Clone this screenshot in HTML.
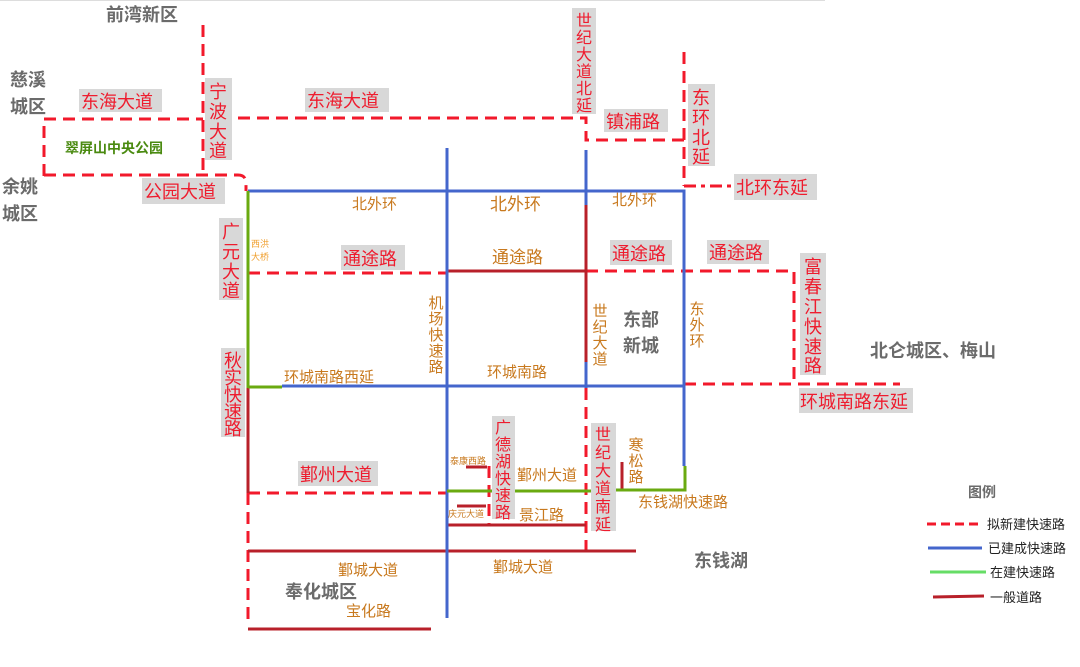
<!DOCTYPE html>
<html><head><meta charset="utf-8"><style>
html,body{margin:0;padding:0;background:#fff;}
svg{display:block;}
text{font-family:"Liberation Sans","Noto Sans CJK SC",sans-serif;}
.r{fill:#ee1c2e;font-size:18px;}
.o{fill:#c8791e;font-size:15px;}
.g{fill:#6b6b6b;font-size:18px;font-weight:bold;}
.bx{fill:#d8d8d8;}
.d{stroke:#f2192b;stroke-width:3;stroke-dasharray:12,7;fill:none;}
.b{stroke:#4466cc;stroke-width:3;fill:none;}
.gr{stroke:#6aaa10;stroke-width:3;fill:none;}
.dr{stroke:#b8202a;stroke-width:3;fill:none;}
</style></head><body>
<svg width="1080" height="667" viewBox="0 0 1080 667">
<line x1="0" y1="0.5" x2="825" y2="0.5" stroke="#ddd"/>
<!-- dashed -->
<path class="d" d="M203 25 V175"/>
<path class="d" d="M44 176 V119 H203 M238 118 H586 V140 H684 M684 52 V186"/>
<path class="d" d="M44 175 H238 Q246 175 246 183 V191"/>
<path class="d" d="M248 273 H447"/>
<path class="d" d="M586 271 H794 V383 M684 384 H900"/>
<path class="d" d="M586 388 V550"/>
<path class="d" d="M248 493 H447"/>
<path class="d" d="M248 493 V625"/>
<path class="d" d="M489 466 V525"/>
<path d="M684 186 H733" stroke="#f2192b" stroke-width="3" stroke-dasharray="12,5,4,5"/>
<!-- dark red -->
<path class="dr" d="M447 271 H586 M586 205 V362 M248 388 V493 M447 525 H586 M248 551 H636 M248 629 H431 M622 462 V490 M466 467 H487 M457 506 H486"/>
<!-- blue -->
<path class="b" d="M248 191 H684 V466 M447 148 V618 M586 150 V205 M586 362 V388 M282 386 H684"/>
<!-- green -->
<path class="gr" d="M248 191 V388 M248 387 H282 M447 491 H614 M614 490 H685 V466"/>
<!-- boxes -->
<g class="bx">
<rect x="79" y="89" width="83" height="23"/>
<rect x="205" y="78" width="27" height="82"/>
<rect x="305" y="88" width="84" height="24"/>
<rect x="142" y="178" width="83" height="26"/>
<rect x="219" y="218" width="24" height="82"/>
<rect x="341" y="245" width="64" height="25"/>
<rect x="610" y="240" width="62" height="25"/>
<rect x="707" y="240" width="62" height="24"/>
<rect x="734" y="174" width="83" height="26"/>
<rect x="604" y="109" width="64" height="23"/>
<rect x="688" y="84" width="27" height="82"/>
<rect x="572" y="8" width="24" height="106"/>
<rect x="800" y="253" width="26" height="122"/>
<rect x="799" y="388" width="114" height="25"/>
<rect x="221" y="348" width="24" height="89"/>
<rect x="298" y="461" width="80" height="25"/>
<rect x="492" y="416" width="23" height="103"/>
<rect x="591" y="423" width="25" height="108"/>
</g>
<!-- red labels -->
<g class="r">
<text x="81" y="108">东海大道</text>
<text x="307" y="107">东海大道</text>
<text x="144" y="198">公园大道</text>
<text x="343" y="265">通途路</text>
<text x="612" y="260">通途路</text>
<text x="709" y="259">通途路</text>
<text x="736" y="194">北环东延</text>
<text x="606" y="128">镇浦路</text>
<text x="800" y="408">环城南路东延</text>
<text x="300" y="481">鄞州大道</text>
</g>
<g class="r" text-anchor="middle">
<text x="218" y="98">宁</text><text x="218" y="118">波</text><text x="218" y="138">大</text><text x="218" y="157">道</text>
<text x="231" y="238">广</text><text x="231" y="258">元</text><text x="231" y="278">大</text><text x="231" y="297">道</text>
<text x="701" y="104">东</text><text x="701" y="124">环</text><text x="701" y="144">北</text><text x="701" y="163">延</text>
<text x="813" y="273">富</text><text x="813" y="293">春</text><text x="813" y="313">江</text><text x="813" y="333">快</text><text x="813" y="353">速</text><text x="813" y="372">路</text>
<text x="233" y="367">秋</text><text x="233" y="384">实</text><text x="233" y="401">快</text><text x="233" y="418">速</text><text x="233" y="435">路</text>
<g style="font-size:16px"><text x="584" y="26">世</text><text x="584" y="43">纪</text><text x="584" y="60">大</text><text x="584" y="77">道</text><text x="584" y="94">北</text><text x="584" y="111">延</text>
<text x="503" y="433">广</text><text x="503" y="450">德</text><text x="503" y="467">湖</text><text x="503" y="484">快</text><text x="503" y="501">速</text><text x="503" y="518">路</text>
<text x="603" y="440">世</text><text x="603" y="458">纪</text><text x="603" y="476">大</text><text x="603" y="494">道</text><text x="603" y="512">南</text><text x="603" y="530">延</text></g>
</g>
<!-- orange labels -->
<g class="o">
<text x="352" y="209">北外环</text>
<text x="490" y="210" style="font-size:17px">北外环</text>
<text x="612" y="205">北外环</text>
<text x="492" y="263" style="font-size:17px">通途路</text>
<text x="284" y="382">环城南路西延</text>
<text x="487" y="377">环城南路</text>
<text x="517" y="480">鄞州大道</text>
<text x="519" y="520">景江路</text>
<text x="638" y="507">东钱湖快速路</text>
<text x="338" y="575">鄞城大道</text>
<text x="493" y="572">鄞城大道</text>
<text x="346" y="616">宝化路</text>
<text x="450" y="464" style="font-size:9px">泰康西路</text>
<text x="448" y="517" style="font-size:9px">庆元大道</text>
<text x="251" y="247" style="font-size:9px;fill:#f0a030">西洪</text>
<text x="251" y="260" style="font-size:9px;fill:#f0a030">大桥</text>
</g>
<g class="o" text-anchor="middle">
<text x="436" y="308">机</text><text x="436" y="324">场</text><text x="436" y="340">快</text><text x="436" y="356">速</text><text x="436" y="372">路</text>
<text x="600" y="316">世</text><text x="600" y="332">纪</text><text x="600" y="348">大</text><text x="600" y="364">道</text>
<text x="697" y="314">东</text><text x="697" y="330">外</text><text x="697" y="346">环</text>
<text x="636" y="450">寒</text><text x="636" y="466">松</text><text x="636" y="482">路</text>
</g>
<!-- districts -->
<g class="g">
<text x="106" y="21">前湾新区</text>
<text x="10" y="86">慈溪</text><text x="10" y="113">城区</text>
<text x="2" y="193">余姚</text><text x="2" y="220">城区</text>
<text x="623" y="326">东部</text><text x="623" y="352">新城</text>
<text x="870" y="357">北仑城区、梅山</text>
<text x="694" y="567">东钱湖</text>
<text x="285" y="598">奉化城区</text>
<text x="968" y="497" style="font-size:14px">图例</text>
</g>
<text x="65" y="153" style="font-size:14px;font-weight:bold;fill:#4a8a10">翠屏山中央公园</text>
<!-- legend -->
<line x1="927" y1="524" x2="980" y2="524" stroke="#f2192b" stroke-width="3" stroke-dasharray="9,5"/>
<line x1="928" y1="548" x2="982" y2="548" stroke="#4466cc" stroke-width="3"/>
<line x1="930" y1="572" x2="986" y2="572" stroke="#66dd66" stroke-width="3"/>
<line x1="933" y1="597" x2="984" y2="596" stroke="#b8202a" stroke-width="3"/>
<g style="font-size:13px;fill:#222">
<text x="987" y="529">拟新建快速路</text>
<text x="988" y="553">已建成快速路</text>
<text x="990" y="577">在建快速路</text>
<text x="990" y="602">一般道路</text>
</g>
</svg>
</body></html>
